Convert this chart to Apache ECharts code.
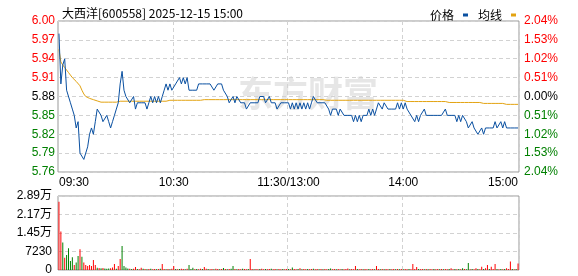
<!DOCTYPE html>
<html>
<head>
<meta charset="utf-8">
<script src="https://cdn.jsdelivr.net/npm/echarts@6/dist/echarts.min.js"></script>
<style>
html,body{margin:0;padding:0;background:#fff;}
#c{width:578px;height:276px;}
</style>
</head>
<body>
<div id="c"></div>
<script>
var titleText = '大西洋[600558] 2025-12-15 15:00';
var prevClose = 5.88;
var tickIndex = [0, 60, 120, 180, 240];
var tickLabels = ['09:30', '10:30', '11:30/13:00', '14:00', '15:00'];

var price = [
5.98,5.90,5.93,5.94,5.89,5.89,5.87,5.86,5.85,5.83,5.84,5.79,5.79,5.78,5.78,5.80,5.82,5.83,5.82,5.84,
5.86,5.86,5.85,5.84,5.84,5.85,5.84,5.83,5.84,5.85,5.86,5.87,5.90,5.92,5.89,5.88,5.88,5.87,5.87,5.88,
5.86,5.87,5.87,5.87,5.87,5.87,5.86,5.87,5.88,5.87,5.88,5.87,5.88,5.87,5.88,5.89,5.90,5.89,5.90,5.89,
5.89,5.90,5.90,5.91,5.90,5.91,5.90,5.91,5.89,5.89,5.89,5.89,5.89,5.90,5.90,5.90,5.90,5.90,5.90,5.90,
5.90,5.89,5.89,5.90,5.90,5.90,5.89,5.89,5.88,5.87,5.87,5.88,5.87,5.88,5.88,5.87,5.87,5.87,5.86,5.86,
5.87,5.87,5.87,5.87,5.87,5.88,5.88,5.88,5.87,5.87,5.88,5.87,5.87,5.87,5.86,5.86,5.87,5.87,5.87,5.87,
5.87,5.86,5.87,5.86,5.87,5.86,5.87,5.86,5.87,5.86,5.87,5.86,5.87,5.88,5.88,5.87,5.87,5.87,5.87,5.87,
5.87,5.86,5.85,5.86,5.86,5.86,5.85,5.86,5.86,5.85,5.85,5.85,5.85,5.85,5.84,5.85,5.84,5.85,5.84,5.85,
5.85,5.85,5.86,5.85,5.86,5.85,5.86,5.87,5.87,5.86,5.87,5.87,5.86,5.86,5.86,5.86,5.86,5.87,5.86,5.87,
5.86,5.87,5.86,5.86,5.85,5.85,5.84,5.85,5.84,5.85,5.85,5.86,5.85,5.85,5.85,5.85,5.85,5.85,5.85,5.85,
5.85,5.85,5.86,5.85,5.85,5.85,5.85,5.85,5.84,5.85,5.84,5.85,5.85,5.84,5.83,5.83,5.84,5.83,5.83,5.82,
5.82,5.83,5.82,5.83,5.83,5.83,5.83,5.83,5.84,5.83,5.83,5.84,5.83,5.84,5.83,5.83,5.83,5.83,5.83,5.83,
5.83
];

var avgPrice = [
5.955,5.935,5.930,5.926,5.922,5.918,5.914,5.910,5.907,5.904,5.902,5.897,5.890,5.884,5.880,5.878,5.877,5.876,5.875,5.874,
5.873,5.871,5.871,5.871,5.871,5.871,5.871,5.871,5.871,5.871,5.871,5.871,5.8725,5.8725,5.8725,5.8725,5.8725,5.8725,5.8725,5.8725,
5.8725,5.8725,5.8725,5.8725,5.8725,5.8725,5.8725,5.8725,5.8725,5.8725,5.8725,5.8725,5.8725,5.8725,5.8725,5.8725,5.8725,5.874,5.874,5.874,
5.874,5.874,5.874,5.874,5.874,5.874,5.874,5.874,5.874,5.874,5.874,5.874,5.874,5.874,5.874,5.874,5.875,5.875,5.875,5.875,
5.875,5.875,5.875,5.875,5.875,5.875,5.875,5.875,5.875,5.875,5.875,5.875,5.875,5.875,5.875,5.875,5.875,5.875,5.875,5.875,
5.875,5.875,5.875,5.875,5.875,5.875,5.875,5.875,5.875,5.875,5.875,5.875,5.875,5.875,5.875,5.875,5.875,5.875,5.875,5.875,
5.875,5.875,5.875,5.875,5.875,5.875,5.875,5.875,5.875,5.875,5.875,5.875,5.875,5.875,5.875,5.875,5.875,5.875,5.875,5.874,
5.874,5.874,5.874,5.874,5.874,5.874,5.874,5.874,5.874,5.874,5.874,5.874,5.874,5.874,5.874,5.874,5.874,5.874,5.874,5.874,
5.874,5.874,5.874,5.874,5.874,5.874,5.874,5.874,5.874,5.874,5.874,5.874,5.874,5.874,5.874,5.874,5.874,5.874,5.874,5.874,
5.874,5.874,5.872,5.872,5.872,5.872,5.872,5.872,5.872,5.872,5.872,5.872,5.872,5.872,5.872,5.872,5.872,5.872,5.872,5.872,
5.872,5.872,5.872,5.8705,5.8705,5.8705,5.8705,5.8705,5.8705,5.8705,5.8705,5.8705,5.8705,5.8705,5.8705,5.8705,5.8705,5.8705,5.8705,5.8705,
5.8705,5.8705,5.869,5.869,5.869,5.869,5.869,5.869,5.869,5.869,5.869,5.869,5.869,5.8675,5.8675,5.8675,5.8675,5.8675,5.8675,5.8675,
5.8675
];

var volume = [
26700,15000,10700,4800,5900,8500,3500,5000,2000,2900,5500,8100,5200,2900,2000,1600,2000,1600,3900,2000,
900,800,700,800,600,500,600,700,1000,2300,500,1600,4300,9400,1600,1000,600,500,400,500,
1200,400,300,900,500,400,300,400,500,300,400,300,400,500,2300,400,300,400,300,500,
1600,400,300,400,500,400,300,500,2000,400,900,300,400,300,500,400,1200,500,400,300,
400,300,500,400,300,400,800,400,300,400,500,1600,400,300,400,300,500,400,300,400,
4300,400,300,400,300,400,500,300,400,300,400,500,300,400,300,400,300,400,300,400,
400,300,1000,400,300,400,700,300,400,300,400,300,400,500,300,400,300,400,300,400,
300,400,600,300,400,300,400,300,400,300,400,600,300,400,300,1600,400,300,400,300,
400,300,400,300,400,300,1600,400,300,400,300,400,300,400,300,400,300,400,300,400,
300,400,300,400,300,2300,400,1200,400,300,400,300,400,300,400,300,400,300,400,300,
400,300,400,300,400,700,300,400,300,400,300,700,400,300,2700,300,400,300,700,400,
300,1300,400,700,2000,400,1300,400,2300,400,300,400,300,400,700,400,3300,400,300,400,
2500
];

var volumeDir = [
1,1,-1,1,-1,-1,-1,-1,1,-1,-1,1,-1,1,1,1,1,1,1,1,
-1,1,-1,1,-1,-1,-1,1,1,1,-1,1,1,-1,-1,-1,-1,1,-1,1,
1,-1,1,1,-1,1,-1,1,-1,1,1,-1,1,-1,1,1,-1,1,-1,1,
1,-1,1,-1,1,1,-1,1,-1,-1,-1,1,-1,1,1,-1,1,1,-1,1,
1,-1,1,1,-1,1,-1,1,-1,1,-1,-1,1,-1,1,1,-1,1,1,-1,
1,1,-1,1,1,-1,1,1,-1,1,1,-1,1,1,-1,1,1,-1,1,1,
-1,1,-1,1,1,-1,1,-1,1,1,-1,1,1,-1,1,1,-1,1,-1,1,
1,-1,-1,1,1,-1,1,1,-1,1,1,1,-1,1,1,1,-1,1,1,-1,
1,1,-1,1,1,-1,1,1,-1,1,-1,1,1,-1,1,1,-1,1,-1,1,
-1,1,1,-1,1,1,1,1,-1,1,1,-1,1,-1,1,1,-1,1,1,-1,
1,-1,1,1,-1,1,1,-1,1,-1,1,-1,1,-1,-1,1,-1,1,1,-1,
1,1,-1,1,1,-1,1,1,1,-1,1,-1,1,-1,1,1,1,-1,1,-1,
1
];

var RED = '#ff0000', GREEN = '#008000', BLACK = '#000000';
var cats = price.map(function (_, i) { return String(i); });
var numFont = '"Liberation Sans", Arial, "Noto Sans CJK SC", sans-serif';
var cjkFont = '"Noto Sans CJK SC", sans-serif';

function priceColor(v) {
  var d = Math.round((Number(v) - prevClose) * 100);
  return d > 0 ? RED : (d < 0 ? GREEN : BLACK);
}
function pctColor(v) {
  var d = Math.round(Number(v) * 100);
  return d > 0 ? RED : (d < 0 ? GREEN : BLACK);
}
function isTick(i) { return tickIndex.indexOf(i) >= 0; }
function isInnerTick(i) { return i > 0 && i < 240 && tickIndex.indexOf(i) >= 0; }

var dash = { color: '#d2d2d2', width: 1, type: [4, 3] };

var chart = echarts.init(document.getElementById('c'), null, { renderer: 'canvas' });
chart.setOption({
  animation: false,
  backgroundColor: '#fff',
  title: {
    text: titleText, left: 57, top: 2,
    textStyle: { fontSize: 12, fontWeight: 'normal', color: '#000', fontFamily: cjkFont }
  },
  legend: {
    data: [
      { name: '价格', itemStyle: { color: '#0a50a1' } },
      { name: '均线', itemStyle: { color: '#e3a311' } }
    ],
    left: 425, top: 4, align: 'right', icon: 'rect',
    itemWidth: 5, itemHeight: 3, itemGap: 10,
    textStyle: { fontSize: 12, color: '#000', fontFamily: cjkFont, padding: [0, 4, 0, 0] }
  },
  graphic: [{
    type: 'text', left: 238, top: 76, z: 0,
    style: { text: '东方财富', font: 'bold 35px "Noto Sans CJK SC"', fill: '#e6e6e6' }
  }],
  grid: [
    { left: 58, top: 21, width: 461, height: 151, show: true, borderColor: '#999', borderWidth: 1, backgroundColor: 'transparent' },
    { left: 58, top: 196, width: 461, height: 74, show: true, borderColor: '#999', borderWidth: 1, backgroundColor: 'transparent' }
  ],
  xAxis: [
    {
      type: 'category', gridIndex: 0, data: cats, boundaryGap: true,
      axisLine: { show: false }, axisTick: { show: false },
      axisLabel: {
        interval: function (i) { return isTick(i); },
        formatter: function (v, i) { return tickLabels[tickIndex.indexOf(Number(v))]; },
        fontSize: 12, color: '#000', fontFamily: numFont, margin: 5,
        alignMinLabel: 'left', alignMaxLabel: 'right', showMinLabel: true, showMaxLabel: true
      },
      splitLine: { show: true, interval: function (i) { return isInnerTick(i); }, lineStyle: dash }
    },
    {
      type: 'category', gridIndex: 1, data: cats, boundaryGap: true,
      axisLine: { show: false }, axisTick: { show: false }, axisLabel: { show: false },
      splitLine: { show: true, interval: function (i) { return isInnerTick(i); }, lineStyle: dash }
    }
  ],
  yAxis: [
    {
      type: 'value', gridIndex: 0, min: 5.76, max: 6.00, interval: 0.03,
      axisLine: { show: false }, axisTick: { show: false },
      axisLabel: {
        margin: 3, fontSize: 12, fontFamily: numFont,
        formatter: function (v) { return Number(v).toFixed(2); },
        color: function (v) { return priceColor(v); }
      },
      splitLine: { show: true, lineStyle: dash }
    },
    {
      type: 'value', gridIndex: 0, position: 'right', min: -2.04, max: 2.04, interval: 0.51,
      axisLine: { show: false }, axisTick: { show: false },
      axisLabel: {
        margin: 5, fontSize: 12, fontFamily: numFont,
        formatter: function (v) { return Math.abs(Number(v)).toFixed(2) + '%'; },
        color: function (v) { return pctColor(v); }
      },
      splitLine: { show: false }
    },
    {
      type: 'value', gridIndex: 1, min: 0, max: 28920, interval: 7230,
      axisLine: { show: false }, axisTick: { show: false },
      axisLabel: {
        margin: 6, fontSize: 12, color: '#000', fontFamily: numFont,
        formatter: function (v) { return v >= 10000 ? (v / 10000).toFixed(2) + '万' : String(v); }
      },
      splitLine: { show: true, lineStyle: dash }
    }
  ],
  series: [
    {
      name: '价格', type: 'line', xAxisIndex: 0, yAxisIndex: 0, data: price,
      showSymbol: false, symbol: 'none', lineStyle: { color: '#0a50a1', width: 1 },
      itemStyle: { color: '#0a50a1' }, z: 4
    },
    {
      name: '均线', type: 'line', xAxisIndex: 0, yAxisIndex: 0, data: avgPrice,
      showSymbol: false, symbol: 'none', lineStyle: { color: '#e3a311', width: 1 },
      itemStyle: { color: '#e3a311' }, z: 3
    },
    {
      name: '成交量', type: 'bar', xAxisIndex: 1, yAxisIndex: 2, barWidth: 1,
      data: volume.map(function (v, i) {
        return { value: v, itemStyle: { color: volumeDir[i] > 0 ? RED : GREEN } };
      })
    }
  ]
});
</script>
</body>
</html>
